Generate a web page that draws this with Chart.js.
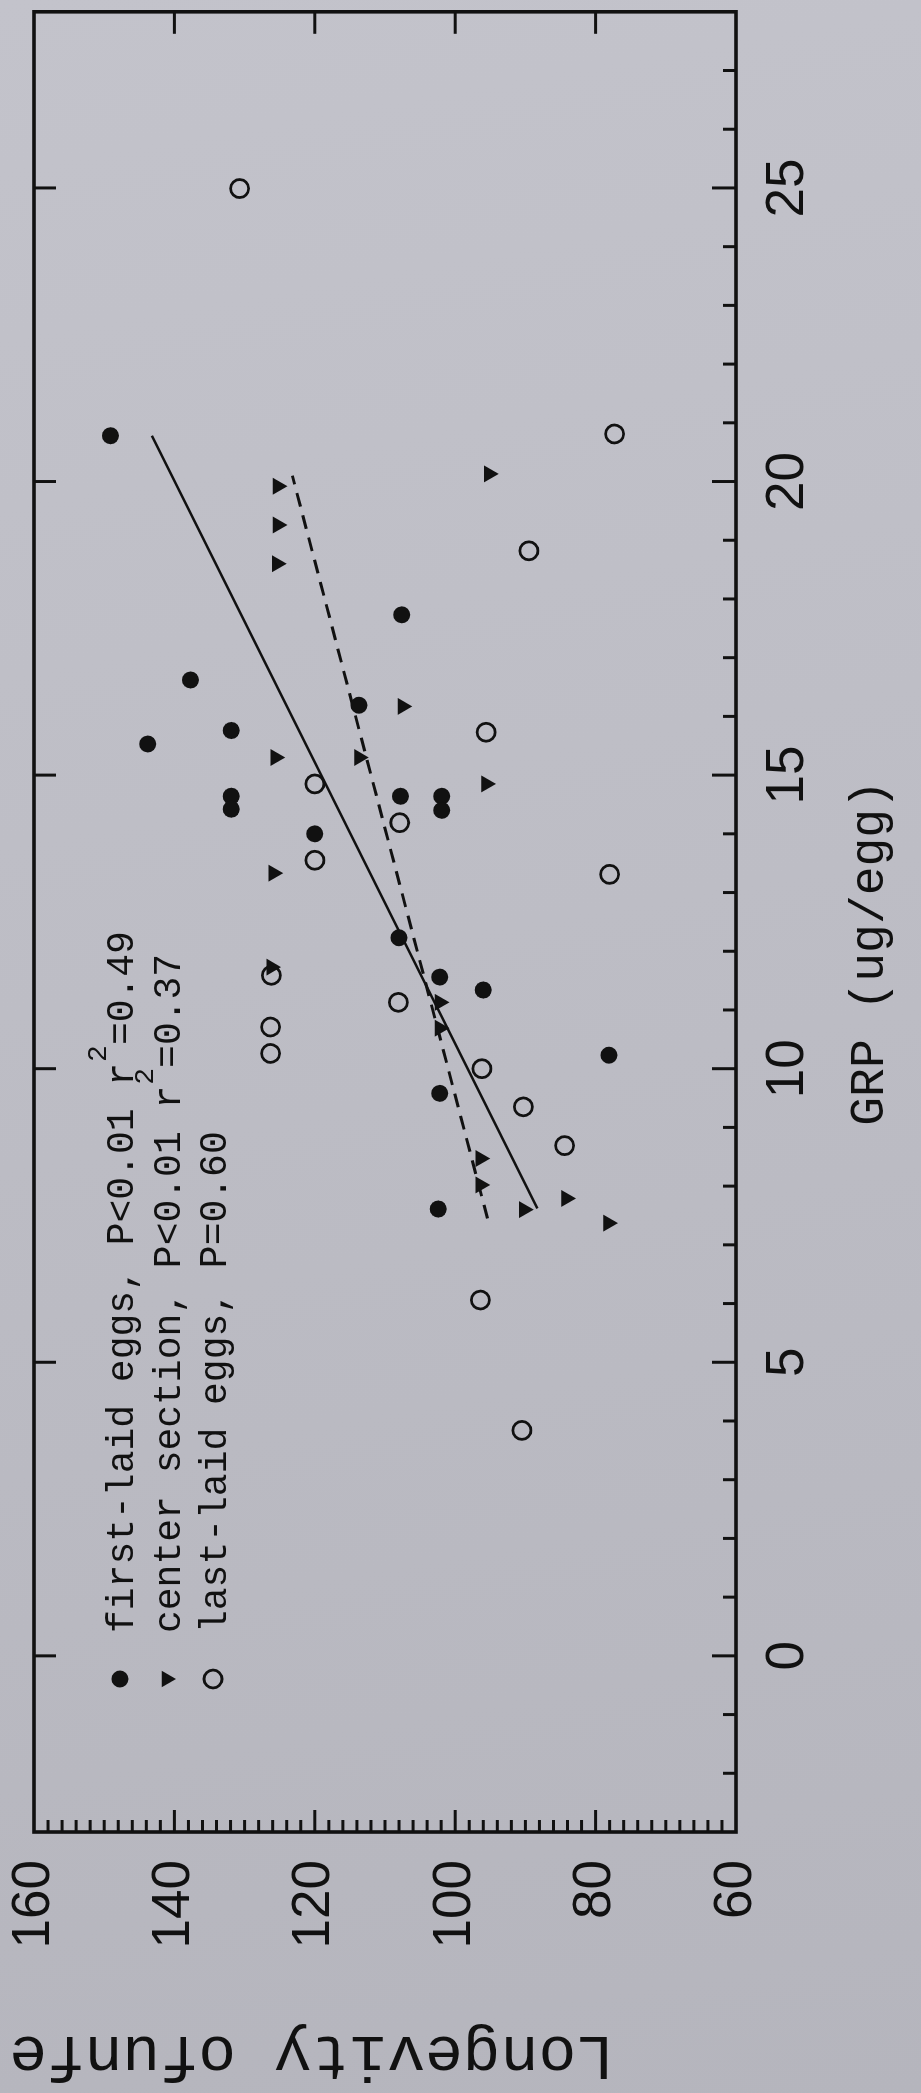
<!DOCTYPE html>
<html>
<head>
<meta charset="utf-8">
<script src="https://cdn.jsdelivr.net/npm/chart.js@4.4.0/dist/chart.umd.min.js"></script>
<style>
html,body{margin:0;padding:0;width:921px;height:2093px;overflow:hidden;}
body{background:linear-gradient(170deg,#c3c3cb 0%,#bdbdc5 45%,#b5b5bd 100%);}
#wrap{position:absolute;left:0;top:0;width:2093px;height:921px;transform-origin:0 0;transform:translateY(2093px) rotate(-90deg);}
canvas{display:block;}
</style>
</head>
<body>
<div id="wrap"><canvas id="c" width="2093" height="921"></canvas></div>
<script>
// ---- data (GRP in ug/egg, longevity) ----
const firstGRP = [20.78, 15.53, 16.62, 15.76, 14.64, 14.42, 14.00, 16.19, 17.73, 14.64, 12.23, 14.64, 14.40, 11.56, 9.58, 7.61, 11.34, 10.23];
const firstLongevity = [149.1, 143.8, 137.7, 131.9, 131.9, 131.9, 120.0, 113.7, 107.6, 107.8, 108.0, 101.9, 101.9, 102.2, 102.2, 102.4, 96.0, 78.1];

const centerGRP = [20.13, 19.92, 19.26, 18.60, 16.17, 15.30, 15.30, 14.85, 13.33, 11.73, 11.13, 10.69, 8.47, 8.02, 7.79, 7.60, 7.37];
const centerLongevity = [95.2, 125.3, 125.3, 125.4, 107.5, 125.6, 113.7, 95.6, 125.9, 126.2, 102.2, 102.2, 96.4, 96.4, 84.2, 90.2, 78.2];

const lastGRP = [24.99, 20.81, 18.82, 15.73, 14.85, 14.19, 13.55, 13.31, 11.59, 11.13, 10.71, 10.26, 10.00, 9.35, 8.69, 6.06, 3.84];
const lastLongevity = [130.7, 77.3, 89.5, 95.6, 120.0, 107.9, 120.0, 78.0, 126.2, 108.1, 126.3, 126.3, 96.2, 90.3, 84.4, 96.4, 90.5];

const fitFirstGRP = [7.62, 20.78];
const fitFirstLongevity = [88.3, 143.2];
const fitCenterGRP = [7.45, 20.10];
const fitCenterLongevity = [95.4, 123.2];

const xTickValues = [0, 5, 10, 15, 20, 25];
const yTickValues = [60, 80, 100, 120, 140, 160];
const xTitle = 'GRP (ug/egg)';
const yTitle = 'Longevity ofunfe';
const legendLabels = ['first-laid eggs, P<0.01 r', 'center section, P<0.01 r', 'last-laid eggs, P=0.60'];
const legendSup = ['2', '2', ''];
const legendStats = ['=0.49', '=0.37', ''];

const zip = (xs, ys) => xs.map((x, i) => ({x: x, y: ys[i]}));
const INK = '#111';
const MONO = "'Liberation Mono', 'DejaVu Sans Mono', monospace";
const SANS = "'Liberation Sans', Arial, sans-serif";

function drawMarker(ctx, style, x, y, r, filled) {
  ctx.beginPath();
  if (style === 'circle') {
    ctx.arc(x, y, r, 0, Math.PI * 2);
  } else { // downward triangle
    ctx.moveTo(x, y + r);
    ctx.lineTo(x - r * 0.866, y - r / 2);
    ctx.lineTo(x + r * 0.866, y - r / 2);
    ctx.closePath();
  }
  if (filled) { ctx.fill(); } else { ctx.lineWidth = 2.8; ctx.stroke(); }
}

const framePlugin = {
  id: 'frame',
  afterDatasetsDraw(chart) {
    const {ctx, chartArea: a, scales: {x, y}} = chart;
    ctx.save();
    ctx.strokeStyle = INK;
    ctx.lineCap = 'butt';
    ctx.lineWidth = 3;
    // x axis (bottom): minor every 1, major every 5
    for (let g = -2; g <= 27; g++) {
      const px = x.getPixelForValue(g);
      const len = (g % 5 === 0) ? 24 : 13;
      ctx.beginPath(); ctx.moveTo(px, a.bottom); ctx.lineTo(px, a.bottom - len); ctx.stroke();
    }
    // top: majors only
    xTickValues.forEach(g => {
      const px = x.getPixelForValue(g);
      ctx.beginPath(); ctx.moveTo(px, a.top); ctx.lineTo(px, a.top + 22); ctx.stroke();
    });
    // left y axis: minor every 2, major every 20
    for (let l = 62; l <= 158; l += 2) {
      const py = y.getPixelForValue(l);
      const len = (l % 20 === 0) ? 22 : 12;
      ctx.beginPath(); ctx.moveTo(a.left, py); ctx.lineTo(a.left + len, py); ctx.stroke();
    }
    // right: majors only
    yTickValues.slice(1, -1).forEach(l => {
      const py = y.getPixelForValue(l);
      ctx.beginPath(); ctx.moveTo(a.right, py); ctx.lineTo(a.right - 22, py); ctx.stroke();
    });
    ctx.lineWidth = 3.6;
    ctx.strokeRect(a.left, a.top, a.right - a.left, a.bottom - a.top);
    ctx.restore();
  }
};

const textPlugin = {
  id: 'texts',
  afterDraw(chart) {
    const {ctx, chartArea: a} = chart;
    ctx.save();
    ctx.fillStyle = INK;
    ctx.strokeStyle = INK;
    // legend
    const styles = ['circle', 'triangle', 'circle'];
    const fills = [true, true, false];
    const radii = [8.5, 9.5, 9];
    for (let i = 0; i < 3; i++) {
      const cy = a.top + 86 + i * 46.5;
      const mx = a.left + 153;
      drawMarker(ctx, styles[i], mx, cy, radii[i], fills[i]);
      let tx = a.left + 199;
      const base = cy + 13;
      ctx.font = '38px ' + MONO;
      ctx.textAlign = 'left';
      ctx.textBaseline = 'alphabetic';
      ctx.fillText(legendLabels[i], tx, base);
      tx += ctx.measureText(legendLabels[i]).width;
      if (legendSup[i]) {
        ctx.font = '28px ' + MONO;
        ctx.fillText(legendSup[i], tx + 1, base - 27);
        tx += ctx.measureText(legendSup[i]).width + 1;
      }
      if (legendStats[i]) {
        ctx.font = '38px ' + MONO;
        ctx.fillText(legendStats[i], tx, base);
      }
    }
    // x title
    ctx.font = '48px ' + MONO;
    ctx.textAlign = 'center';
    ctx.textBaseline = 'alphabetic';
    ctx.fillText(xTitle, (a.left + a.right) / 2 - 31, 883);
    // y title (rotated)
    ctx.translate(56, 614);
    ctx.rotate(-Math.PI / 2);
    ctx.font = '63px ' + MONO;
    ctx.textAlign = 'left';
    ctx.fillText(yTitle, 0, 0);
    ctx.restore();
  }
};

function zeroPad(s) { s.paddingTop = 0; s.paddingBottom = 0; s.paddingLeft = 0; s.paddingRight = 0; }

new Chart(document.getElementById('c'), {
  type: 'scatter',
  data: {
    datasets: [
      {label: 'first-laid eggs', data: zip(firstGRP, firstLongevity), pointStyle: 'circle', pointRadius: 8.5,
       backgroundColor: INK, borderColor: INK, borderWidth: 0},
      {label: 'center section', data: zip(centerGRP, centerLongevity), pointStyle: 'triangle', rotation: 180, pointRotation: 180,
       pointRadius: 9.8, backgroundColor: INK, borderColor: INK, borderWidth: 0},
      {label: 'last-laid eggs', data: zip(lastGRP, lastLongevity), pointStyle: 'circle', pointRadius: 9,
       backgroundColor: 'rgba(0,0,0,0)', borderColor: INK, borderWidth: 2.8},
      {type: 'line', label: 'fit first-laid', data: zip(fitFirstGRP, fitFirstLongevity), borderColor: INK,
       borderWidth: 2.5, pointRadius: 0, fill: false, tension: 0},
      {type: 'line', label: 'fit center', data: zip(fitCenterGRP, fitCenterLongevity), borderColor: INK,
       borderWidth: 3, borderDash: [14, 9], pointRadius: 0, fill: false, tension: 0}
    ]
  },
  options: {
    responsive: false,
    animation: false,
    devicePixelRatio: 1,
    layout: {padding: {left: 0, right: 11, top: 34, bottom: 0}},
    plugins: {legend: {display: false}, tooltip: {enabled: false}},
    scales: {
      x: {
        type: 'linear', min: -3, max: 28,
        afterBuildTicks: s => { s.ticks = xTickValues.map(v => ({value: v})); },
        ticks: {font: {family: SANS, size: 53}, color: INK, padding: 21, maxRotation: 0, autoSkip: false},
        grid: {display: false, drawTicks: false},
        border: {display: false},
        afterFit: s => { s.height = 185; zeroPad(s); }
      },
      y: {
        type: 'linear', min: 60, max: 160,
        afterBuildTicks: s => { s.ticks = yTickValues.map(v => ({value: v})); },
        ticks: {font: {family: SANS, size: 53}, color: INK, padding: 28, autoSkip: false},
        grid: {display: false, drawTicks: false},
        border: {display: false},
        afterFit: s => { s.width = 261; zeroPad(s); }
      }
    }
  },
  plugins: [framePlugin, textPlugin]
});
</script>
</body>
</html>
